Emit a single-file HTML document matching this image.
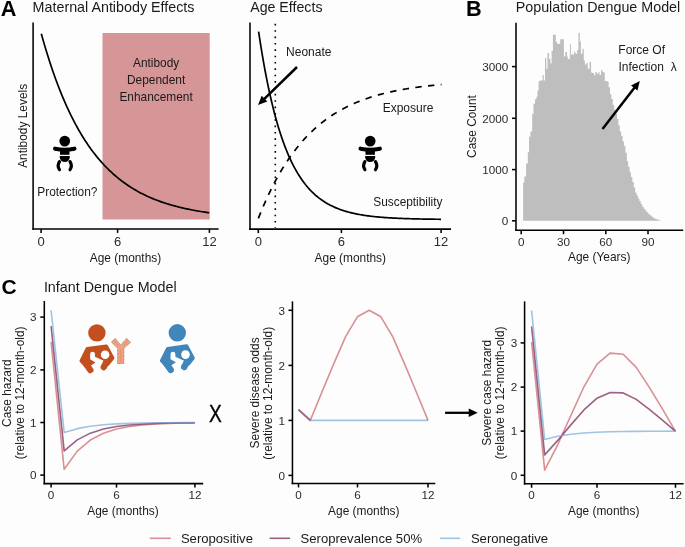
<!DOCTYPE html>
<html><head><meta charset="utf-8"><title>Figure</title>
<style>
html,body{margin:0;padding:0;background:#fdfdfd;}
body{width:685px;height:547px;overflow:hidden;}
svg{display:block;font-family:"Liberation Sans", sans-serif;will-change:transform;filter:blur(0.3px);}
</style></head>
<body>
<svg width="685" height="547" viewBox="0 0 685 547">
<rect width="685" height="547" fill="#fdfdfd"/>
<text x="0.80" y="15.90" font-size="21.7" text-anchor="start" font-weight="bold" fill="#000" >A</text>
<text x="32.60" y="12.00" font-size="14.3" text-anchor="start" font-weight="normal" fill="#1a1a1a" >Maternal Antibody Effects</text>
<rect x="102.5" y="33.0" width="107.2" height="186.5" fill="#d69596"/>
<text x="156.10" y="66.80" font-size="11.9" text-anchor="middle" font-weight="normal" fill="#1a1a1a" >Antibody</text>
<text x="156.10" y="83.80" font-size="11.9" text-anchor="middle" font-weight="normal" fill="#1a1a1a" >Dependent</text>
<text x="156.10" y="100.90" font-size="11.9" text-anchor="middle" font-weight="normal" fill="#1a1a1a" >Enhancement</text>
<polyline points="41.30,33.68 42.71,38.73 44.12,43.64 45.54,48.41 46.95,53.06 48.36,57.58 49.77,61.98 51.18,66.26 52.59,70.43 54.01,74.48 55.42,78.42 56.83,82.25 58.24,85.98 59.65,89.61 61.06,93.14 62.48,96.58 63.89,99.92 65.30,103.17 66.71,106.33 68.12,109.41 69.54,112.40 70.95,115.32 72.36,118.15 73.77,120.91 75.18,123.59 76.59,126.20 78.01,128.74 79.42,131.21 80.83,133.61 82.24,135.95 83.65,138.22 85.06,140.44 86.48,142.59 87.89,144.68 89.30,146.72 90.71,148.70 92.12,150.63 93.54,152.51 94.95,154.33 96.36,156.11 97.77,157.84 99.18,159.52 100.59,161.15 102.01,162.74 103.42,164.29 104.83,165.80 106.24,167.26 107.65,168.69 109.06,170.08 110.48,171.42 111.89,172.74 113.30,174.01 114.71,175.26 116.12,176.47 117.54,177.64 118.95,178.79 120.36,179.90 121.77,180.98 123.18,182.04 124.59,183.06 126.01,184.06 127.42,185.03 128.83,185.97 130.24,186.89 131.65,187.78 133.06,188.65 134.48,189.50 135.89,190.32 137.30,191.12 138.71,191.90 140.12,192.66 141.54,193.39 142.95,194.11 144.36,194.81 145.77,195.49 147.18,196.15 148.59,196.79 150.01,197.41 151.42,198.02 152.83,198.61 154.24,199.19 155.65,199.75 157.06,200.29 158.48,200.82 159.89,201.34 161.30,201.84 162.71,202.33 164.12,202.80 165.54,203.27 166.95,203.71 168.36,204.15 169.77,204.58 171.18,204.99 172.59,205.39 174.01,205.79 175.42,206.17 176.83,206.54 178.24,206.90 179.65,207.25 181.06,207.59 182.48,207.92 183.89,208.25 185.30,208.56 186.71,208.87 188.12,209.16 189.54,209.45 190.95,209.73 192.36,210.01 193.77,210.27 195.18,210.53 196.59,210.79 198.01,211.03 199.42,211.27 200.83,211.50 202.24,211.73 203.65,211.95 205.06,212.16 206.48,212.37 207.89,212.57 209.30,212.77" fill="none" stroke="#000" stroke-width="1.7" stroke-linejoin="round" />
<g transform="translate(64.75,141.1)" fill="#000"><circle cx="0" cy="0" r="5.35"/><path d="M -9.7,7.6 Q 0,9.6 9.7,7.6" stroke="#000" stroke-width="4.1" stroke-linecap="round" fill="none"/><rect x="-4.7" y="8.5" width="9.4" height="5.2"/><path d="M -5,14.9 H 5 V 16.2 A 5 4.8 0 0 1 -5 16.2 Z"/><path d="M -5.3,20.6 Q -7.9,24.8 -5.3,28.6" stroke="#000" stroke-width="3.2" stroke-linecap="round" fill="none"/><path d="M 5.3,20.6 Q 7.9,24.8 5.3,28.6" stroke="#000" stroke-width="3.2" stroke-linecap="round" fill="none"/></g>
<text x="37.30" y="196.20" font-size="11.9" text-anchor="start" font-weight="normal" fill="#1a1a1a" >Protection?</text>
<line x1="33.10" y1="22.50" x2="33.10" y2="229.68" stroke="#000" stroke-width="1.55" />
<line x1="32.33" y1="228.90" x2="218.60" y2="228.90" stroke="#000" stroke-width="1.55" />
<line x1="41.10" y1="228.90" x2="41.10" y2="232.88" stroke="#000" stroke-width="1.55" />
<text x="41.10" y="245.60" font-size="13.0" text-anchor="middle" font-weight="normal" fill="#2b2b2b" >0</text>
<line x1="117.60" y1="228.90" x2="117.60" y2="232.88" stroke="#000" stroke-width="1.55" />
<text x="117.60" y="245.60" font-size="13.0" text-anchor="middle" font-weight="normal" fill="#2b2b2b" >6</text>
<line x1="209.40" y1="228.90" x2="209.40" y2="232.88" stroke="#000" stroke-width="1.55" />
<text x="209.40" y="245.60" font-size="13.0" text-anchor="middle" font-weight="normal" fill="#2b2b2b" >12</text>
<text x="125.50" y="261.80" font-size="11.9" text-anchor="middle" font-weight="normal" fill="#1a1a1a" >Age (months)</text>
<text x="0.00" y="0.00" font-size="11.9" text-anchor="middle" font-weight="normal" fill="#1a1a1a" transform="translate(26.7,125.9) rotate(-90)">Antibody Levels</text>
<text x="250.20" y="12.00" font-size="14.2" text-anchor="start" font-weight="normal" fill="#1a1a1a" >Age Effects</text>
<polyline points="258.60,31.62 259.75,39.20 260.89,46.47 262.04,53.45 263.19,60.14 264.34,66.57 265.48,72.74 266.63,78.65 267.78,84.33 268.92,89.79 270.07,95.02 271.22,100.04 272.37,104.86 273.51,109.48 274.66,113.92 275.81,118.18 276.95,122.26 278.10,126.19 279.25,129.95 280.40,133.56 281.54,137.03 282.69,140.36 283.84,143.55 284.98,146.61 286.13,149.55 287.28,152.38 288.43,155.08 289.57,157.68 290.72,160.18 291.87,162.57 293.02,164.87 294.16,167.07 295.31,169.19 296.46,171.22 297.60,173.17 298.75,175.04 299.90,176.83 301.05,178.56 302.19,180.21 303.34,181.80 304.49,183.32 305.63,184.78 306.78,186.18 307.93,187.53 309.08,188.82 310.22,190.06 311.37,191.25 312.52,192.39 313.66,193.48 314.81,194.53 315.96,195.54 317.11,196.51 318.25,197.44 319.40,198.33 320.55,199.19 321.69,200.01 322.84,200.80 323.99,201.55 325.14,202.28 326.28,202.98 327.43,203.65 328.58,204.29 329.72,204.90 330.87,205.49 332.02,206.06 333.17,206.60 334.31,207.13 335.46,207.63 336.61,208.11 337.75,208.57 338.90,209.01 340.05,209.44 341.20,209.85 342.34,210.24 343.49,210.61 344.64,210.97 345.78,211.32 346.93,211.65 348.08,211.97 349.23,212.28 350.37,212.57 351.52,212.85 352.67,213.12 353.82,213.38 354.96,213.63 356.11,213.87 357.26,214.10 358.40,214.32 359.55,214.53 360.70,214.73 361.85,214.93 362.99,215.12 364.14,215.29 365.29,215.47 366.43,215.63 367.58,215.79 368.73,215.94 369.88,216.09 371.02,216.23 372.17,216.36 373.32,216.49 374.46,216.61 375.61,216.73 376.76,216.85 377.91,216.96 379.05,217.06 380.20,217.16 381.35,217.26 382.49,217.35 383.64,217.44 384.79,217.53 385.94,217.61 387.08,217.69 388.23,217.76 389.38,217.83 390.52,217.90 391.67,217.97 392.82,218.04 393.97,218.10 395.11,218.16 396.26,218.21 397.41,218.27 398.55,218.32 399.70,218.37 400.85,218.42 402.00,218.46 403.14,218.51 404.29,218.55 405.44,218.59 406.58,218.63 407.73,218.67 408.88,218.70 410.03,218.74 411.17,218.77 412.32,218.80 413.47,218.83 414.62,218.86 415.76,218.89 416.91,218.92 418.06,218.94 419.20,218.97 420.35,218.99 421.50,219.01 422.65,219.04 423.79,219.06 424.94,219.08 426.09,219.10 427.23,219.12 428.38,219.13 429.53,219.15 430.68,219.17 431.82,219.18 432.97,219.20 434.12,219.21 435.26,219.23 436.41,219.24 437.56,219.25 438.71,219.27 439.85,219.28 441.00,219.29" fill="none" stroke="#000" stroke-width="1.7" stroke-linejoin="round" />
<polyline points="258.40,218.34 259.55,215.42 260.70,212.56 261.85,209.77 263.01,207.03 264.16,204.35 265.31,201.72 266.46,199.16 267.61,196.64 268.76,194.18 269.92,191.77 271.07,189.41 272.22,187.10 273.37,184.84 274.52,182.63 275.67,180.47 276.83,178.35 277.98,176.27 279.13,174.24 280.28,172.25 281.43,170.30 282.58,168.40 283.73,166.53 284.89,164.70 286.04,162.92 287.19,161.17 288.34,159.45 289.49,157.78 290.64,156.13 291.80,154.53 292.95,152.95 294.10,151.41 295.25,149.91 296.40,148.43 297.55,146.99 298.71,145.57 299.86,144.19 301.01,142.83 302.16,141.51 303.31,140.21 304.46,138.94 305.61,137.69 306.77,136.47 307.92,135.28 309.07,134.11 310.22,132.97 311.37,131.85 312.52,130.76 313.68,129.68 314.83,128.64 315.98,127.61 317.13,126.60 318.28,125.62 319.43,124.65 320.58,123.71 321.74,122.79 322.89,121.88 324.04,121.00 325.19,120.13 326.34,119.28 327.49,118.45 328.65,117.64 329.80,116.85 330.95,116.07 332.10,115.31 333.25,114.56 334.40,113.83 335.56,113.11 336.71,112.41 337.86,111.73 339.01,111.06 340.16,110.40 341.31,109.76 342.46,109.13 343.62,108.51 344.77,107.91 345.92,107.32 347.07,106.74 348.22,106.18 349.37,105.62 350.53,105.08 351.68,104.55 352.83,104.03 353.98,103.52 355.13,103.03 356.28,102.54 357.44,102.06 358.59,101.59 359.74,101.14 360.89,100.69 362.04,100.25 363.19,99.82 364.34,99.40 365.50,98.99 366.65,98.59 367.80,98.20 368.95,97.81 370.10,97.43 371.25,97.06 372.41,96.70 373.56,96.35 374.71,96.00 375.86,95.66 377.01,95.33 378.16,95.01 379.32,94.69 380.47,94.38 381.62,94.07 382.77,93.77 383.92,93.48 385.07,93.20 386.22,92.92 387.38,92.64 388.53,92.37 389.68,92.11 390.83,91.85 391.98,91.60 393.13,91.36 394.29,91.11 395.44,90.88 396.59,90.65 397.74,90.42 398.89,90.20 400.04,89.98 401.19,89.77 402.35,89.56 403.50,89.36 404.65,89.16 405.80,88.97 406.95,88.78 408.10,88.59 409.26,88.41 410.41,88.23 411.56,88.05 412.71,87.88 413.86,87.71 415.01,87.55 416.17,87.39 417.32,87.23 418.47,87.08 419.62,86.92 420.77,86.78 421.92,86.63 423.07,86.49 424.23,86.35 425.38,86.22 426.53,86.08 427.68,85.95 428.83,85.83 429.98,85.70 431.14,85.58 432.29,85.46 433.44,85.34 434.59,85.23 435.74,85.12 436.89,85.01 438.05,84.90 439.20,84.80 440.35,84.69 441.50,84.59" fill="none" stroke="#000" stroke-width="1.7" stroke-linejoin="round" stroke-dasharray="6.39 6.39" stroke-linecap="butt"/>
<line x1="275.30" y1="23.85" x2="275.30" y2="228.00" stroke="#000" stroke-width="1.6" stroke-dasharray="1.6 4.76"/>
<text x="286.10" y="55.90" font-size="12.0" text-anchor="start" font-weight="normal" fill="#1a1a1a" >Neonate</text>
<line x1="297.00" y1="67.00" x2="263.80" y2="99.35" stroke="#000" stroke-width="2.5" />
<polygon points="258.00,105.00 261.69,95.75 267.34,101.55" fill="#000"/>
<text x="382.70" y="112.20" font-size="12.0" text-anchor="start" font-weight="normal" fill="#1a1a1a" >Exposure</text>
<text x="373.30" y="205.90" font-size="11.85" text-anchor="start" font-weight="normal" fill="#1a1a1a" >Susceptibility</text>
<g transform="translate(370.2,141.1)" fill="#000"><circle cx="0" cy="0" r="5.35"/><path d="M -9.7,7.6 Q 0,9.6 9.7,7.6" stroke="#000" stroke-width="4.1" stroke-linecap="round" fill="none"/><rect x="-4.7" y="8.5" width="9.4" height="5.2"/><path d="M -5,14.9 H 5 V 16.2 A 5 4.8 0 0 1 -5 16.2 Z"/><path d="M -5.3,20.6 Q -7.9,24.8 -5.3,28.6" stroke="#000" stroke-width="3.2" stroke-linecap="round" fill="none"/><path d="M 5.3,20.6 Q 7.9,24.8 5.3,28.6" stroke="#000" stroke-width="3.2" stroke-linecap="round" fill="none"/></g>
<line x1="250.00" y1="22.60" x2="250.00" y2="229.88" stroke="#000" stroke-width="1.55" />
<line x1="249.22" y1="229.10" x2="451.00" y2="229.10" stroke="#000" stroke-width="1.55" />
<line x1="258.30" y1="229.10" x2="258.30" y2="233.07" stroke="#000" stroke-width="1.55" />
<text x="258.30" y="245.60" font-size="13.0" text-anchor="middle" font-weight="normal" fill="#2b2b2b" >0</text>
<line x1="341.40" y1="229.10" x2="341.40" y2="233.07" stroke="#000" stroke-width="1.55" />
<text x="341.40" y="245.60" font-size="13.0" text-anchor="middle" font-weight="normal" fill="#2b2b2b" >6</text>
<line x1="441.10" y1="229.10" x2="441.10" y2="233.07" stroke="#000" stroke-width="1.55" />
<text x="441.10" y="245.60" font-size="13.0" text-anchor="middle" font-weight="normal" fill="#2b2b2b" >12</text>
<text x="350.30" y="261.60" font-size="11.9" text-anchor="middle" font-weight="normal" fill="#1a1a1a" >Age (months)</text>
<text x="466.00" y="15.90" font-size="21.7" text-anchor="start" font-weight="bold" fill="#000" >B</text>
<text x="515.70" y="12.30" font-size="14.3" text-anchor="start" font-weight="normal" fill="#1a1a1a" >Population Dengue Model</text>
<path d="M 523.1,220.7 L 523.10,182.70 L 524.30,182.70 L 524.30,176.60 L 526.10,176.60 L 526.10,163.60 L 527.80,163.60 L 527.80,152.30 L 529.00,152.30 L 529.00,136.70 L 530.40,136.70 L 530.40,131.50 L 532.20,131.50 L 532.20,114.10 L 533.50,114.10 L 533.50,103.70 L 535.00,103.70 L 535.00,99.30 L 536.40,99.30 L 536.40,96.80 L 537.50,96.80 L 537.50,90.60 L 538.60,90.60 L 538.60,81.30 L 540.00,81.30 L 540.00,80.50 L 541.40,80.50 L 541.40,80.50 L 542.60,80.50 L 542.60,75.00 L 543.80,75.00 L 543.80,80.50 L 545.00,80.50 L 545.00,58.00 L 546.30,58.00 L 546.30,68.80 L 547.50,68.80 L 547.50,53.00 L 549.00,53.00 L 549.00,58.70 L 550.40,58.70 L 550.40,63.40 L 551.60,63.40 L 551.60,51.10 L 552.90,51.10 L 552.90,34.70 L 554.40,34.70 L 554.40,34.70 L 555.80,34.70 L 555.80,41.70 L 556.90,41.70 L 556.90,43.80 L 558.50,43.80 L 558.50,43.80 L 560.20,43.80 L 560.20,39.20 L 562.00,39.20 L 562.00,39.20 L 563.90,39.20 L 563.90,56.40 L 565.30,56.40 L 565.30,52.00 L 567.00,52.00 L 567.00,56.40 L 567.80,56.40 L 567.80,59.00 L 569.90,59.00 L 569.90,43.80 L 570.90,43.80 L 570.90,54.50 L 572.50,54.50 L 572.50,54.50 L 574.00,54.50 L 574.00,51.70 L 575.40,51.70 L 575.40,53.70 L 577.20,53.70 L 577.20,49.90 L 578.40,49.90 L 578.40,33.10 L 579.80,33.10 L 579.80,41.60 L 580.90,41.60 L 580.90,53.70 L 582.50,53.70 L 582.50,48.80 L 583.80,48.80 L 583.80,60.60 L 584.90,60.60 L 584.90,64.40 L 586.40,64.40 L 586.40,62.90 L 587.80,62.90 L 587.80,68.80 L 589.60,68.80 L 589.60,62.00 L 591.10,62.00 L 591.10,72.60 L 592.50,72.60 L 592.50,73.10 L 594.00,73.10 L 594.00,75.20 L 595.20,75.20 L 595.20,72.00 L 596.60,72.00 L 596.60,73.70 L 598.10,73.70 L 598.10,72.30 L 599.50,72.30 L 599.50,74.90 L 601.00,74.90 L 601.00,70.20 L 602.50,70.20 L 602.50,72.30 L 603.70,72.30 L 603.70,72.30 L 604.80,72.30 L 604.80,81.00 L 606.30,81.00 L 606.30,81.00 L 607.40,81.00 L 607.40,81.80 L 608.60,81.80 L 608.60,87.20 L 610.00,87.20 L 610.00,94.20 L 611.40,94.20 L 611.40,98.90 L 612.80,98.90 L 612.80,105.00 L 614.20,105.00 L 614.20,109.70 L 615.60,109.70 L 615.60,113.60 L 617.00,113.60 L 617.00,119.00 L 618.40,119.00 L 618.40,125.30 L 619.80,125.30 L 619.80,131.50 L 621.20,131.50 L 621.20,136.10 L 622.60,136.10 L 622.60,141.60 L 624.00,141.60 L 624.00,145.75 L 625.40,145.75 L 625.40,152.83 L 626.80,152.83 L 626.80,161.30 L 628.20,161.30 L 628.20,166.84 L 629.60,166.84 L 629.60,172.25 L 631.00,172.25 L 631.00,177.12 L 632.40,177.12 L 632.40,182.00 L 633.80,182.00 L 633.80,187.45 L 635.20,187.45 L 635.20,192.80 L 636.60,192.80 L 636.60,195.60 L 638.00,195.60 L 638.00,198.40 L 639.40,198.40 L 639.40,201.20 L 640.80,201.20 L 640.80,204.00 L 642.20,204.00 L 642.20,206.80 L 643.60,206.80 L 643.60,208.68 L 645.00,208.68 L 645.00,210.31 L 646.40,210.31 L 646.40,211.94 L 647.80,211.94 L 647.80,213.44 L 649.20,213.44 L 649.20,214.65 L 650.60,214.65 L 650.60,215.86 L 652.00,215.86 L 652.00,217.07 L 653.40,217.07 L 653.40,218.17 L 654.80,218.17 L 654.80,218.69 L 656.20,218.69 L 656.20,219.21 L 657.60,219.21 L 657.60,219.72 L 659.00,219.72 L 659.00,220.20 L 660.40,220.20 L 660.40,220.7 Z" fill="#bebebe"/>
<line x1="516.00" y1="22.80" x2="516.00" y2="230.97" stroke="#000" stroke-width="1.55" />
<line x1="515.23" y1="230.20" x2="683.20" y2="230.20" stroke="#000" stroke-width="1.55" />
<line x1="521.20" y1="230.20" x2="521.20" y2="234.17" stroke="#000" stroke-width="1.55" />
<text x="521.20" y="246.00" font-size="11.7" text-anchor="middle" font-weight="normal" fill="#2b2b2b" >0</text>
<line x1="563.50" y1="230.20" x2="563.50" y2="234.17" stroke="#000" stroke-width="1.55" />
<text x="563.50" y="246.00" font-size="11.7" text-anchor="middle" font-weight="normal" fill="#2b2b2b" >30</text>
<line x1="605.80" y1="230.20" x2="605.80" y2="234.17" stroke="#000" stroke-width="1.55" />
<text x="605.80" y="246.00" font-size="11.7" text-anchor="middle" font-weight="normal" fill="#2b2b2b" >60</text>
<line x1="648.00" y1="230.20" x2="648.00" y2="234.17" stroke="#000" stroke-width="1.55" />
<text x="648.00" y="246.00" font-size="11.7" text-anchor="middle" font-weight="normal" fill="#2b2b2b" >90</text>
<line x1="512.02" y1="66.60" x2="516.00" y2="66.60" stroke="#000" stroke-width="1.55" />
<text x="508.30" y="70.90" font-size="11.7" text-anchor="end" font-weight="normal" fill="#2b2b2b" >3000</text>
<line x1="512.02" y1="118.30" x2="516.00" y2="118.30" stroke="#000" stroke-width="1.55" />
<text x="508.30" y="122.60" font-size="11.7" text-anchor="end" font-weight="normal" fill="#2b2b2b" >2000</text>
<line x1="512.02" y1="169.60" x2="516.00" y2="169.60" stroke="#000" stroke-width="1.55" />
<text x="508.30" y="173.90" font-size="11.7" text-anchor="end" font-weight="normal" fill="#2b2b2b" >1000</text>
<line x1="512.02" y1="220.80" x2="516.00" y2="220.80" stroke="#000" stroke-width="1.55" />
<text x="508.30" y="225.10" font-size="11.7" text-anchor="end" font-weight="normal" fill="#2b2b2b" >0</text>
<text x="599.20" y="261.00" font-size="11.9" text-anchor="middle" font-weight="normal" fill="#1a1a1a" >Age (Years)</text>
<text x="0.00" y="0.00" font-size="11.9" text-anchor="middle" font-weight="normal" fill="#1a1a1a" transform="translate(476.1,126.5) rotate(-90)">Case Count</text>
<text x="618.30" y="54.20" font-size="12.0" text-anchor="start" font-weight="normal" fill="#1a1a1a" >Force Of</text>
<text x="618.50" y="71.00" font-size="12.0" text-anchor="start" font-weight="normal" fill="#1a1a1a" >Infection</text>
<text x="670.80" y="71.00" font-size="12.0" text-anchor="start" font-weight="normal" fill="#1a1a1a" >λ</text>
<line x1="602.50" y1="129.10" x2="634.84" y2="87.31" stroke="#000" stroke-width="2.5" />
<polygon points="639.80,80.90 637.43,90.58 631.03,85.62" fill="#000"/>
<text x="1.40" y="294.00" font-size="21.0" text-anchor="start" font-weight="bold" fill="#000" >C</text>
<text x="43.90" y="291.60" font-size="14.3" text-anchor="start" font-weight="normal" fill="#1a1a1a" >Infant Dengue Model</text>
<polyline points="51.10,341.87 64.17,469.30 77.25,451.14 90.32,440.03 103.39,433.23 116.46,429.06 129.54,426.52 142.61,424.96 155.68,424.00 168.75,423.42 181.83,423.06 194.90,422.84" fill="none" stroke="#ca6068" stroke-width="1.6" stroke-linejoin="round" stroke-opacity="0.7"/>
<polyline points="51.10,326.06 64.17,450.93 77.25,439.90 90.32,433.15 103.39,429.02 116.46,426.49 129.54,424.94 142.61,423.99 155.68,423.41 168.75,423.06 181.83,422.84 194.90,422.71" fill="none" stroke="#701e4c" stroke-width="1.6" stroke-linejoin="round" stroke-opacity="0.7"/>
<polyline points="51.10,310.25 64.17,432.57 77.25,428.66 90.32,426.27 103.39,424.81 116.46,423.91 129.54,423.36 142.61,423.03 155.68,422.82 168.75,422.70 181.83,422.62 194.90,422.57" fill="none" stroke="#78add9" stroke-width="1.6" stroke-linejoin="round" stroke-opacity="0.7"/>
<line x1="44.30" y1="301.00" x2="44.30" y2="484.38" stroke="#000" stroke-width="1.55" />
<line x1="43.52" y1="483.60" x2="203.20" y2="483.60" stroke="#000" stroke-width="1.55" />
<line x1="51.10" y1="483.60" x2="51.10" y2="487.57" stroke="#000" stroke-width="1.55" />
<text x="51.10" y="499.20" font-size="11.7" text-anchor="middle" font-weight="normal" fill="#2b2b2b" >0</text>
<line x1="116.50" y1="483.60" x2="116.50" y2="487.57" stroke="#000" stroke-width="1.55" />
<text x="116.50" y="499.20" font-size="11.7" text-anchor="middle" font-weight="normal" fill="#2b2b2b" >6</text>
<line x1="194.90" y1="483.60" x2="194.90" y2="487.57" stroke="#000" stroke-width="1.55" />
<text x="194.90" y="499.20" font-size="11.7" text-anchor="middle" font-weight="normal" fill="#2b2b2b" >12</text>
<line x1="40.32" y1="317.10" x2="44.30" y2="317.10" stroke="#000" stroke-width="1.55" />
<text x="36.60" y="321.40" font-size="11.7" text-anchor="end" font-weight="normal" fill="#2b2b2b" >3</text>
<line x1="40.32" y1="369.90" x2="44.30" y2="369.90" stroke="#000" stroke-width="1.55" />
<text x="36.60" y="374.20" font-size="11.7" text-anchor="end" font-weight="normal" fill="#2b2b2b" >2</text>
<line x1="40.32" y1="422.50" x2="44.30" y2="422.50" stroke="#000" stroke-width="1.55" />
<text x="36.60" y="426.80" font-size="11.7" text-anchor="end" font-weight="normal" fill="#2b2b2b" >1</text>
<line x1="40.32" y1="475.10" x2="44.30" y2="475.10" stroke="#000" stroke-width="1.55" />
<text x="36.60" y="479.40" font-size="11.7" text-anchor="end" font-weight="normal" fill="#2b2b2b" >0</text>
<text x="123.00" y="514.70" font-size="11.9" text-anchor="middle" font-weight="normal" fill="#1a1a1a" >Age (months)</text>
<text x="0.00" y="0.00" font-size="11.9" text-anchor="middle" font-weight="normal" fill="#1a1a1a" transform="translate(11.2,393.2) rotate(-90)">Case hazard</text>
<text x="0.00" y="0.00" font-size="11.9" text-anchor="middle" font-weight="normal" fill="#1a1a1a" transform="translate(23.9,392.9) rotate(-90)">(relative to 12-month-old)</text>
<g transform="translate(96.9,332.9)"><circle cx="0" cy="0" r="8.7" fill="#c24f1d"/><polygon points="-9.6,16 9.3,13.3 15.7,25.2 11,31 -10,33 -15.6,27.9" fill="#c24f1d" stroke="#c24f1d" stroke-width="3.6" stroke-linejoin="round"/><path d="M -6.76,21.4 A 2.43 2.43 0 0 1 -1.9,21.4 L -1.9,23.85 L 6.8,27.94 L 4.76,33.57 L 4.76,45 L -4.2,45 L -4.2,36.13 L -6.25,32.8 L -1.4,29.48 L -6.76,26.4 Z" fill="#fff"/><line x1="11.2" y1="26.2" x2="6.9" y2="34.2" stroke="#c24f1d" stroke-width="6.4" stroke-linecap="round"/><line x1="-12.6" y1="28.8" x2="-6.6" y2="37.1" stroke="#c24f1d" stroke-width="6.4" stroke-linecap="round"/><circle cx="8.2" cy="21.8" r="4.3" fill="#fff"/></g>
<g transform="translate(177.3,332.8)"><circle cx="0" cy="0" r="8.7" fill="#4186ba"/><polygon points="-9.6,16 9.3,13.3 15.7,25.2 11,31 -10,33 -15.6,27.9" fill="#4186ba" stroke="#4186ba" stroke-width="3.6" stroke-linejoin="round"/><path d="M -6.76,21.4 A 2.43 2.43 0 0 1 -1.9,21.4 L -1.9,23.85 L 6.8,27.94 L 4.76,33.57 L 4.76,45 L -4.2,45 L -4.2,36.13 L -6.25,32.8 L -1.4,29.48 L -6.76,26.4 Z" fill="#fff"/><line x1="11.2" y1="26.2" x2="6.9" y2="34.2" stroke="#4186ba" stroke-width="6.4" stroke-linecap="round"/><line x1="-12.6" y1="28.8" x2="-6.6" y2="37.1" stroke="#4186ba" stroke-width="6.4" stroke-linecap="round"/><circle cx="8.2" cy="21.8" r="4.3" fill="#fff"/></g>
<polygon points="117.6,363.5 117.6,348.2 111.3,342.1 115.1,338.3 120.75,345.0 126.6,338.3 130.7,342.4 123.9,348.2 123.9,363.5" fill="#f2a283" stroke="#6b5048" stroke-width="0.6" stroke-dasharray="0.8 0.6"/>
<line x1="120.75" y1="349" x2="120.75" y2="363.3" stroke="#c9826a" stroke-width="0.5"/>
<line x1="113.2" y1="340.2" x2="118.5" y2="345.5" stroke="#c9826a" stroke-width="0.5"/>
<line x1="128.65" y1="340.35" x2="123.2" y2="345.8" stroke="#c9826a" stroke-width="0.5"/>
<text x="0.00" y="0.00" font-size="24.5" text-anchor="middle" font-weight="normal" fill="#000" stroke="#000" stroke-width="0.35" transform="translate(215.3,421.9) scale(0.78,1)">X</text>
<polyline points="298.50,409.66 310.27,420.40 322.05,420.40 333.82,420.40 345.59,420.40 357.36,420.40 369.14,420.40 380.91,420.40 392.68,420.40 404.45,420.40 416.23,420.40 428.00,420.40" fill="none" stroke="#78add9" stroke-width="1.6" stroke-linejoin="round" stroke-opacity="0.7"/>
<polyline points="298.50,409.66 310.27,420.40 322.05,391.75 333.82,363.65 345.59,336.65 357.36,316.81 369.14,310.20 380.91,316.81 392.68,336.65 404.45,363.65 416.23,391.75 428.00,420.40" fill="none" stroke="#ca6068" stroke-width="1.6" stroke-linejoin="round" stroke-opacity="0.7"/>
<polyline points="298.50,409.66 310.27,420.40" fill="none" stroke="#a06888" stroke-width="1.6" stroke-linejoin="round" />
<line x1="292.45" y1="301.40" x2="292.45" y2="484.22" stroke="#000" stroke-width="1.55" />
<line x1="291.68" y1="483.45" x2="435.30" y2="483.45" stroke="#000" stroke-width="1.55" />
<line x1="298.50" y1="483.45" x2="298.50" y2="487.42" stroke="#000" stroke-width="1.55" />
<text x="298.50" y="499.30" font-size="11.7" text-anchor="middle" font-weight="normal" fill="#2b2b2b" >0</text>
<line x1="357.50" y1="483.45" x2="357.50" y2="487.42" stroke="#000" stroke-width="1.55" />
<text x="357.50" y="499.30" font-size="11.7" text-anchor="middle" font-weight="normal" fill="#2b2b2b" >6</text>
<line x1="428.00" y1="483.45" x2="428.00" y2="487.42" stroke="#000" stroke-width="1.55" />
<text x="428.00" y="499.30" font-size="11.7" text-anchor="middle" font-weight="normal" fill="#2b2b2b" >12</text>
<line x1="288.48" y1="310.30" x2="292.45" y2="310.30" stroke="#000" stroke-width="1.55" />
<text x="285.00" y="314.60" font-size="11.7" text-anchor="end" font-weight="normal" fill="#2b2b2b" >3</text>
<line x1="288.48" y1="365.40" x2="292.45" y2="365.40" stroke="#000" stroke-width="1.55" />
<text x="285.00" y="369.70" font-size="11.7" text-anchor="end" font-weight="normal" fill="#2b2b2b" >2</text>
<line x1="288.48" y1="420.40" x2="292.45" y2="420.40" stroke="#000" stroke-width="1.55" />
<text x="285.00" y="424.70" font-size="11.7" text-anchor="end" font-weight="normal" fill="#2b2b2b" >1</text>
<line x1="288.48" y1="475.40" x2="292.45" y2="475.40" stroke="#000" stroke-width="1.55" />
<text x="285.00" y="479.70" font-size="11.7" text-anchor="end" font-weight="normal" fill="#2b2b2b" >0</text>
<text x="363.80" y="514.70" font-size="11.9" text-anchor="middle" font-weight="normal" fill="#1a1a1a" >Age (months)</text>
<text x="0.00" y="0.00" font-size="11.9" text-anchor="middle" font-weight="normal" fill="#1a1a1a" transform="translate(259.2,392.85) rotate(-90)">Severe disease odds</text>
<text x="0.00" y="0.00" font-size="11.9" text-anchor="middle" font-weight="normal" fill="#1a1a1a" transform="translate(272.2,393.3) rotate(-90)">(relative to 12-month-old)</text>
<line x1="445.10" y1="412.80" x2="469.70" y2="412.80" stroke="#000" stroke-width="2.3" />
<polygon points="477.70,412.80 468.70,417.05 468.70,408.55" fill="#000"/>
<polyline points="531.60,342.07 544.68,470.17 557.76,444.57 570.85,415.49 583.93,386.79 597.01,364.17 610.09,353.16 623.17,354.29 636.25,367.39 649.34,387.34 662.42,408.94 675.50,431.39" fill="none" stroke="#ca6068" stroke-width="1.6" stroke-linejoin="round" stroke-opacity="0.7"/>
<polyline points="531.60,326.30 544.68,454.84 557.76,440.40 570.85,424.87 583.93,409.91 597.01,398.22 610.09,392.49 623.17,392.92 636.25,399.38 649.34,409.30 662.42,420.07 675.50,431.27" fill="none" stroke="#701e4c" stroke-width="1.6" stroke-linejoin="round" stroke-opacity="0.7"/>
<polyline points="531.60,310.52 544.68,439.50 557.76,436.24 570.85,434.25 583.93,433.03 597.01,432.28 610.09,431.82 623.17,431.54 636.25,431.37 649.34,431.27 662.42,431.20 675.50,431.16" fill="none" stroke="#78add9" stroke-width="1.6" stroke-linejoin="round" stroke-opacity="0.7"/>
<line x1="524.60" y1="301.40" x2="524.60" y2="484.57" stroke="#000" stroke-width="1.55" />
<line x1="523.83" y1="483.80" x2="683.60" y2="483.80" stroke="#000" stroke-width="1.55" />
<line x1="531.60" y1="483.80" x2="531.60" y2="487.77" stroke="#000" stroke-width="1.55" />
<text x="531.60" y="499.40" font-size="11.7" text-anchor="middle" font-weight="normal" fill="#2b2b2b" >0</text>
<line x1="597.00" y1="483.80" x2="597.00" y2="487.77" stroke="#000" stroke-width="1.55" />
<text x="597.00" y="499.40" font-size="11.7" text-anchor="middle" font-weight="normal" fill="#2b2b2b" >6</text>
<line x1="675.50" y1="483.80" x2="675.50" y2="487.77" stroke="#000" stroke-width="1.55" />
<text x="675.50" y="499.40" font-size="11.7" text-anchor="middle" font-weight="normal" fill="#2b2b2b" >12</text>
<line x1="520.62" y1="342.90" x2="524.60" y2="342.90" stroke="#000" stroke-width="1.55" />
<text x="517.20" y="347.20" font-size="11.7" text-anchor="end" font-weight="normal" fill="#2b2b2b" >3</text>
<line x1="520.62" y1="387.10" x2="524.60" y2="387.10" stroke="#000" stroke-width="1.55" />
<text x="517.20" y="391.40" font-size="11.7" text-anchor="end" font-weight="normal" fill="#2b2b2b" >2</text>
<line x1="520.62" y1="431.10" x2="524.60" y2="431.10" stroke="#000" stroke-width="1.55" />
<text x="517.20" y="435.40" font-size="11.7" text-anchor="end" font-weight="normal" fill="#2b2b2b" >1</text>
<line x1="520.62" y1="475.30" x2="524.60" y2="475.30" stroke="#000" stroke-width="1.55" />
<text x="517.20" y="479.60" font-size="11.7" text-anchor="end" font-weight="normal" fill="#2b2b2b" >0</text>
<text x="603.70" y="514.70" font-size="11.9" text-anchor="middle" font-weight="normal" fill="#1a1a1a" >Age (months)</text>
<text x="0.00" y="0.00" font-size="11.9" text-anchor="middle" font-weight="normal" fill="#1a1a1a" transform="translate(490.6,392.75) rotate(-90)">Severe case hazard</text>
<text x="0.00" y="0.00" font-size="11.9" text-anchor="middle" font-weight="normal" fill="#1a1a1a" transform="translate(504.3,392.9) rotate(-90)">(relative to 12-month-old)</text>
<line x1="149.90" y1="538.30" x2="170.80" y2="538.30" stroke="#d98f95" stroke-width="1.6" />
<text x="180.90" y="543.40" font-size="13.1" text-anchor="start" font-weight="normal" fill="#1a1a1a" >Seropositive</text>
<line x1="269.60" y1="538.30" x2="290.10" y2="538.30" stroke="#9a6181" stroke-width="1.6" />
<text x="300.50" y="543.40" font-size="13.1" text-anchor="start" font-weight="normal" fill="#1a1a1a" >Seroprevalence 50%</text>
<line x1="439.90" y1="538.30" x2="460.10" y2="538.30" stroke="#a0c5e4" stroke-width="1.6" />
<text x="470.90" y="543.40" font-size="13.1" text-anchor="start" font-weight="normal" fill="#1a1a1a" >Seronegative</text>
</svg>
</body></html>
